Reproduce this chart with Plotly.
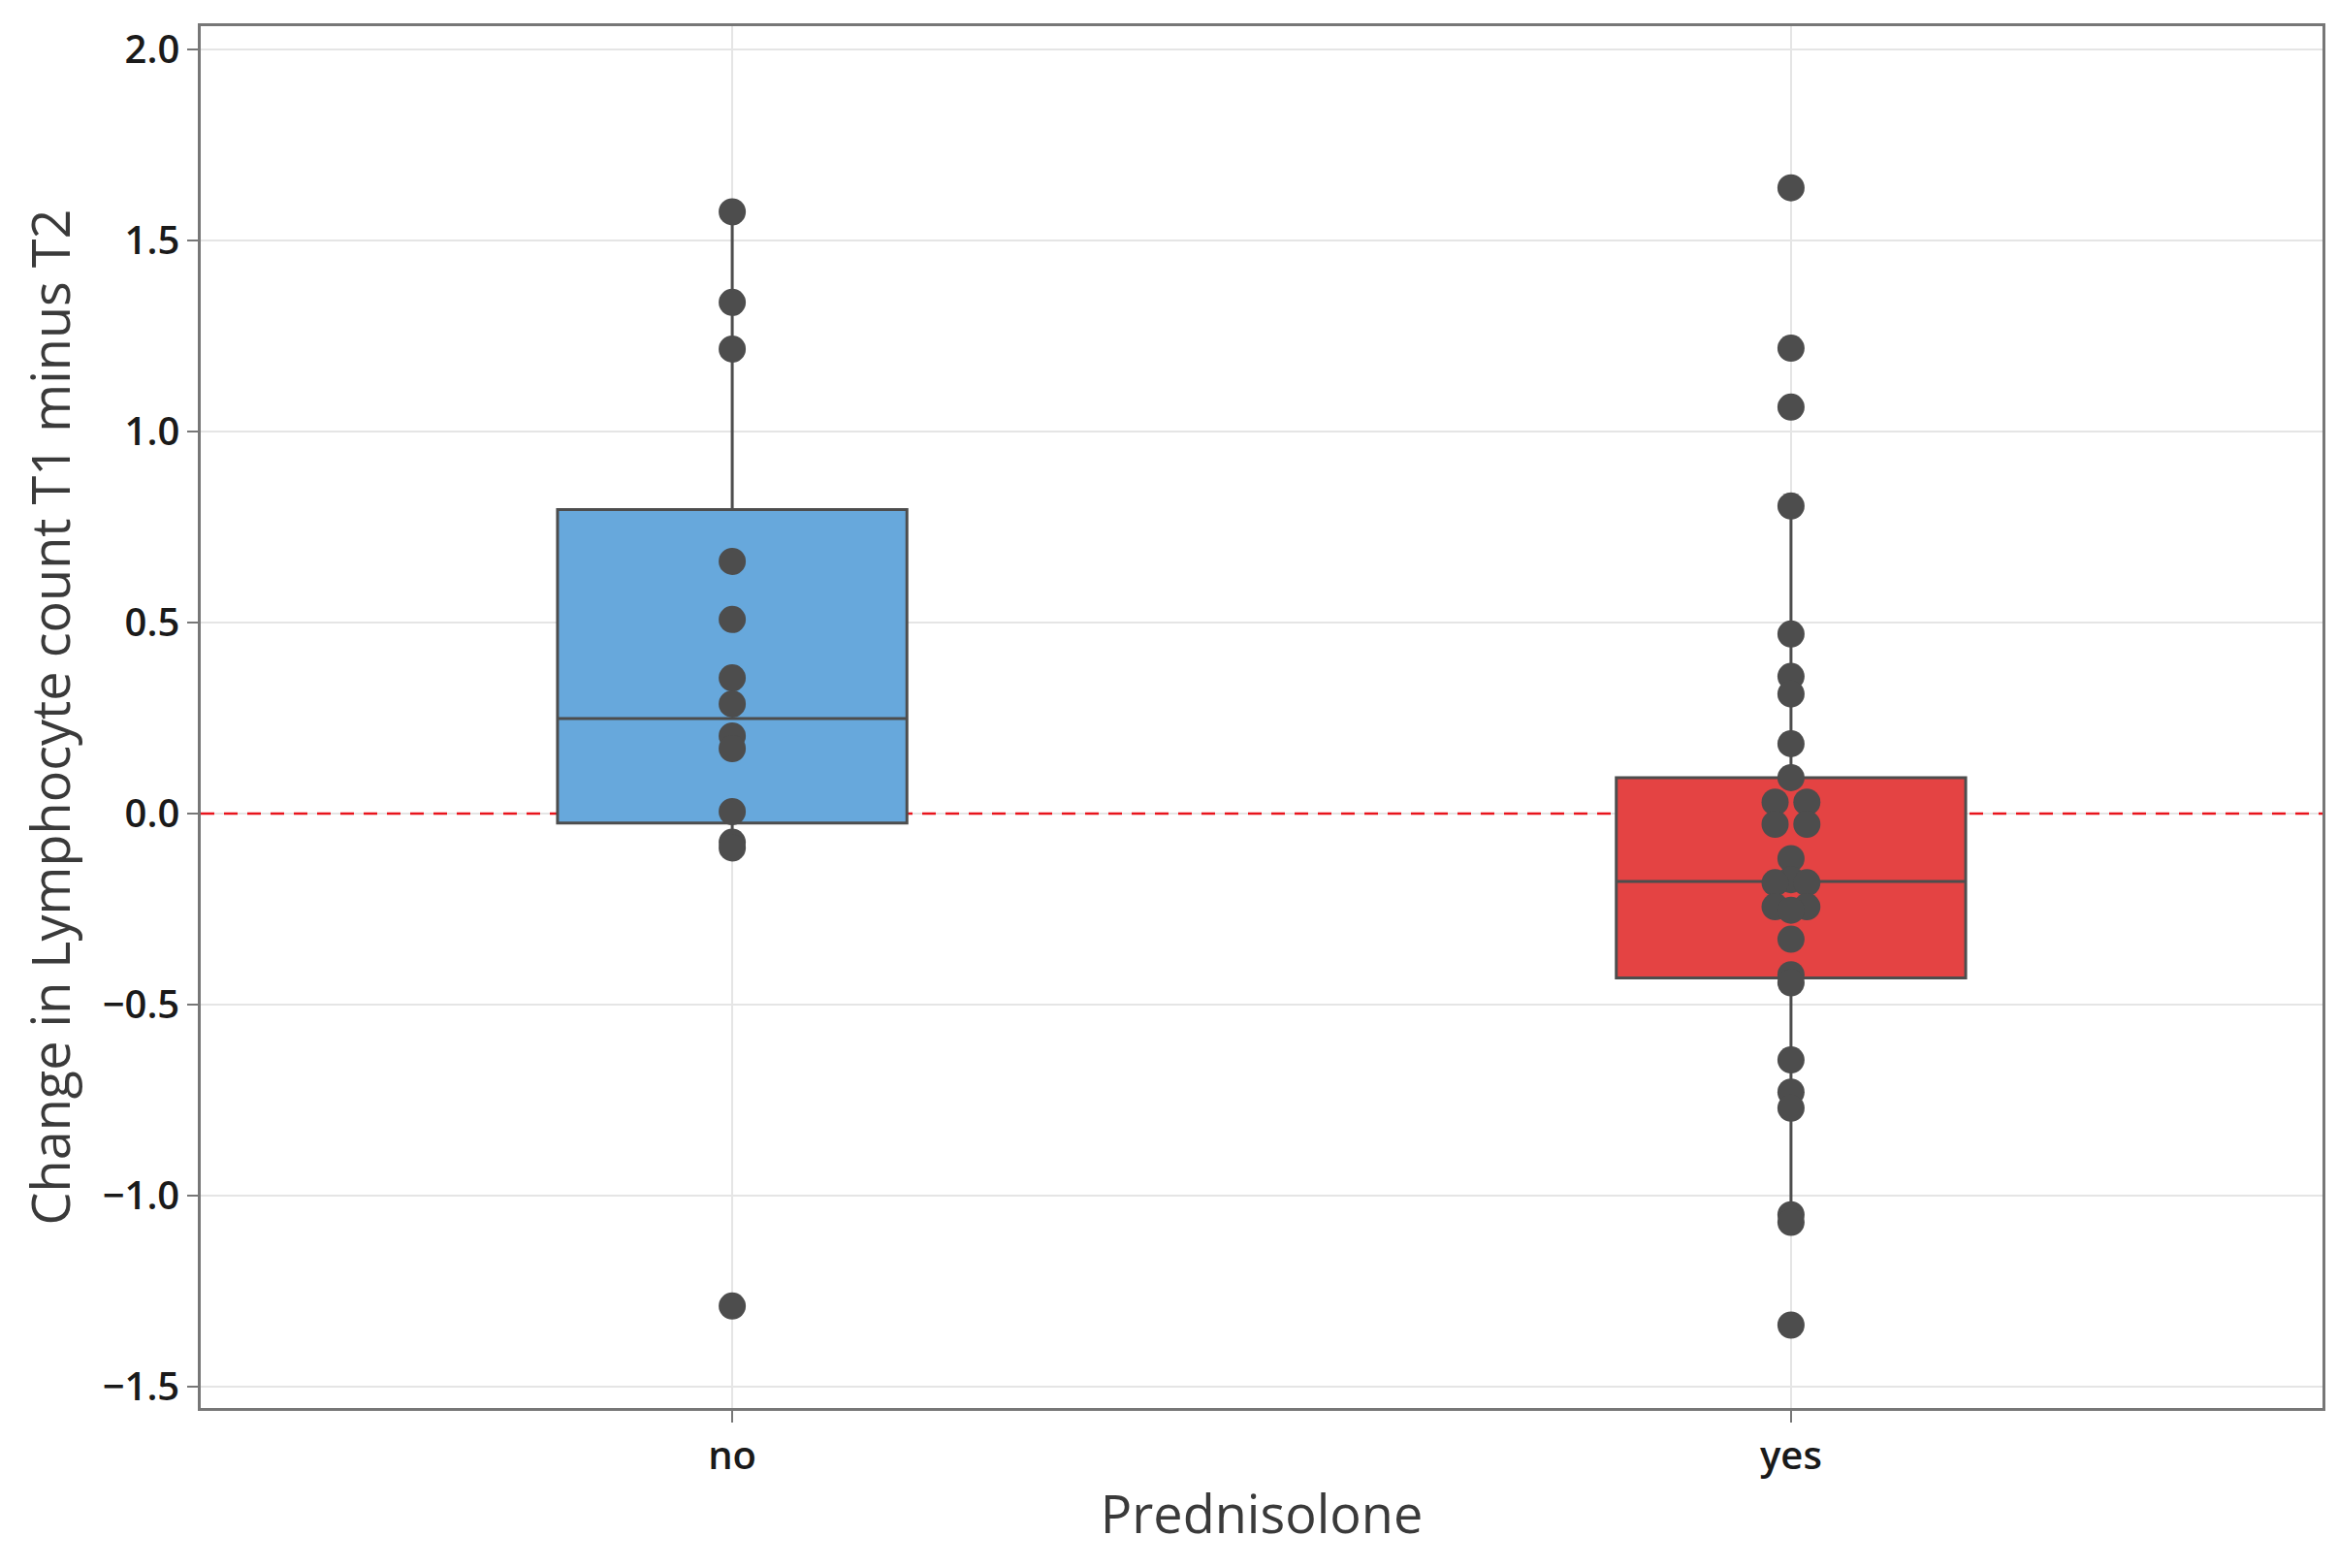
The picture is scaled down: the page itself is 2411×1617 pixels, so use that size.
import plotly.graph_objects as go

# groups on the x axis
groups = ["no", "yes"]
group_pos = [0, 1]
box_colors = ["#67A8DC", "#E44343"]

# box statistics
q1 = [-0.025, -0.43]
median = [0.249, -0.178]
q3 = [0.796, 0.094]
lower_fence = [-0.09, -1.05]
upper_fence = [1.575, 0.805]

# individual observations (value, dodge slot)
no_values = [1.575, 1.338, 1.216, 0.660, 0.508, 0.355, 0.287, 0.203, 0.170,
             0.005, -0.075, -0.09, -1.289]
no_slots = [0] * len(no_values)

yes_values = [1.638, 1.218, 1.064, 0.805, 0.470, 0.359, 0.313, 0.183, 0.094,
              0.030, 0.030, -0.028, -0.028, -0.118, -0.173, -0.181, -0.181,
              -0.244, -0.244, -0.253, -0.329, -0.422, -0.443, -0.645, -0.729,
              -0.771, -1.050, -1.070, -1.339]
yes_slots = [0, 0, 0, 0, 0, 0, 0, 0, 0,
             -1, 1, -1, 1, 0, 0, -1, 1,
             -1, 1, 0, 0, 0, 0, 0, 0,
             0, 0, 0, 0]

y_ticks = [-1.5, -1.0, -0.5, 0.0, 0.5, 1.0, 1.5, 2.0]
x_range = [-0.502, 1.502]
y_range = [-1.556, 2.061]

DODGE = 0.015
DOT_COLOR = "#4D4D4D"
FONT = "Open Sans"

fig = go.Figure()

for i in range(len(groups)):
    fig.add_trace(
        go.Box(
            x=[group_pos[i]],
            q1=[q1[i]],
            median=[median[i]],
            q3=[q3[i]],
            lowerfence=[lower_fence[i]],
            upperfence=[upper_fence[i]],
            width=0.33,
            boxpoints=False,
            fillcolor=box_colors[i],
            line=dict(color=DOT_COLOR, width=3),
            whiskerwidth=0,
            showlegend=False,
            hoverinfo="skip",
        )
    )

# points drawn on top of the boxes
for pos, vals, slots in [(group_pos[0], no_values, no_slots),
                         (group_pos[1], yes_values, yes_slots)]:
    fig.add_trace(
        go.Scatter(
            x=[pos + s * DODGE for s in slots],
            y=vals,
            mode="markers",
            marker=dict(size=28, color=DOT_COLOR, line=dict(width=0)),
            showlegend=False,
        )
    )

# reference line at zero, above the grid but under the boxes
fig.add_shape(
    type="line", xref="x", x0=x_range[0], x1=x_range[1], yref="y", y0=0, y1=0,
    line=dict(color="#E8141C", width=2.5, dash="14px,10px"),
    layer="between",
)

fig.update_layout(
    width=2411,
    height=1617,
    paper_bgcolor="white",
    plot_bgcolor="white",
    margin=dict(l=199, r=24, t=19, b=173),
    font=dict(family=FONT, color="#1A1A1A"),
    xaxis=dict(
        range=x_range,
        tickvals=group_pos,
        ticktext=groups,
        tickfont=dict(size=40, color="#1A1A1A", weight=600),
        title=dict(text="Prednisolone", font=dict(size=54, color="#3A3A3A"), standoff=18),
        showgrid=True,
        gridcolor="#E5E5E5",
        gridwidth=2,
        zeroline=False,
        ticks="outside",
        ticklen=12,
        tickwidth=2,
        tickcolor="#777777",
        showline=True,
        linecolor="#777777",
        linewidth=2.5,
        mirror=True,
    ),
    yaxis=dict(
        range=y_range,
        tickvals=y_ticks,
        tickformat=".1f",
        tickfont=dict(size=40, color="#1A1A1A", weight=600),
        title=dict(text="Change in Lymphocyte count T1 minus T2",
                   font=dict(size=54, color="#3A3A3A"), standoff=16),
        showgrid=True,
        gridcolor="#E5E5E5",
        gridwidth=2,
        zeroline=False,
        ticks="outside",
        ticklen=11,
        tickwidth=2,
        tickcolor="#777777",
        showline=True,
        linecolor="#777777",
        linewidth=2.5,
        mirror=True,
    ),
)

fig.write_html("out.html")
